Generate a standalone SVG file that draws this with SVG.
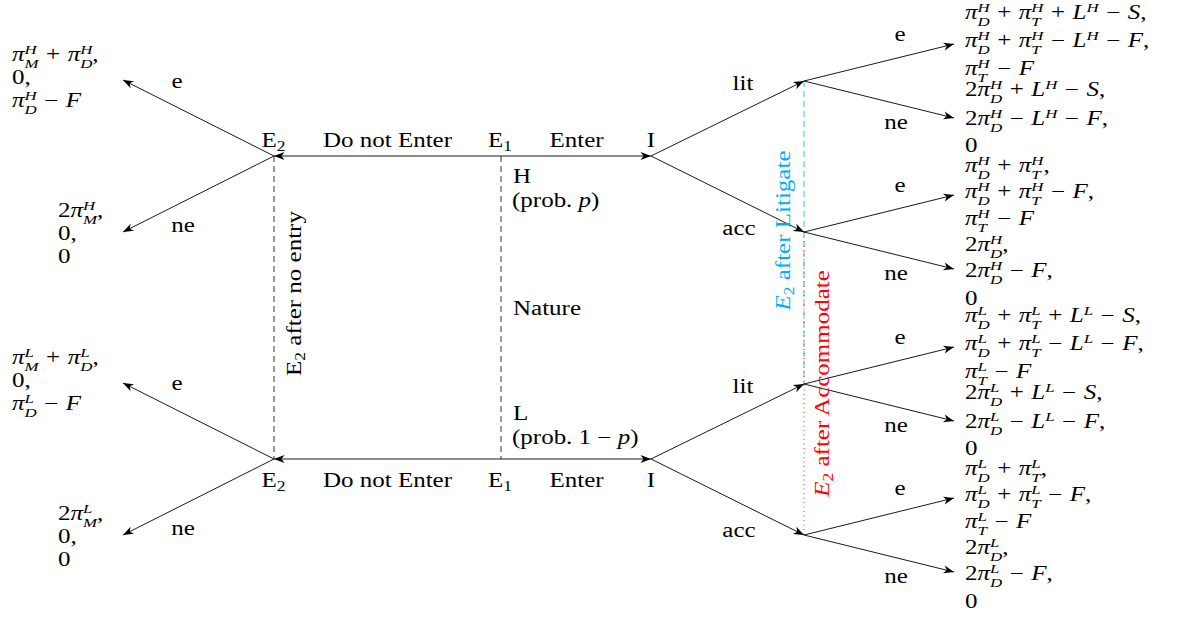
<svg xmlns="http://www.w3.org/2000/svg" width="1178" height="617" viewBox="0 0 1178 617">
<defs>
  <marker id="stealth" viewBox="-11 -5 12 10" refX="0" refY="0" markerWidth="12" markerHeight="10" markerUnits="userSpaceOnUse" orient="auto">
    <path d="M0,0 L-10.5,-4 L-7.5,0 L-10.5,4 Z" fill="#000"/>
  </marker>
</defs>
<style>
  text { font-family: "Liberation Serif", "Times New Roman", serif; font-size: 20px; fill: #000; }
  .c { text-anchor: middle; }
  .m { word-spacing: 1px; }
  .i { font-style: italic; }
  .s { font-size: 13.5px; font-style: italic; }
  .sr { font-size: 14px; }
  .cy { fill: #00AEEF; }
  .rd { fill: #FF0000; }
  .edge { stroke: #000; stroke-width: 0.9; fill: none; marker-end: url(#stealth); }
  .info { stroke: #000; stroke-width: 0.8; fill: none; stroke-dasharray: 6 4; }
  .set-lit { stroke: #00AEEF; stroke-width: 0.8; fill: none; stroke-dasharray: 6 4; }
  .set-acc { stroke: #FF0000; stroke-width: 0.9; fill: none; stroke-dasharray: 1 3.5; }
</style>
<rect width="1178" height="617" fill="#fff"/>

<!-- information sets -->
<g id="info-sets">
  <line class="info" x1="274" y1="156" x2="274" y2="459"/>
  <line class="info" x1="501" y1="156" x2="501" y2="459"/>
  <line class="set-lit" x1="804" y1="81" x2="804" y2="384"/>
  <line class="set-acc" x1="804" y1="232" x2="804" y2="535"/>
</g>

<!-- moves -->
<g id="connectors">
  <line class="edge" x1="501" y1="156" x2="274" y2="156"/>
  <line class="edge" x1="501" y1="156" x2="651" y2="156"/>
  <line class="edge" x1="501" y1="459" x2="274" y2="459"/>
  <line class="edge" x1="501" y1="459" x2="651" y2="459"/>
  <line class="edge" x1="274" y1="156" x2="123" y2="80"/>
  <line class="edge" x1="274" y1="156" x2="123" y2="232"/>
  <line class="edge" x1="274" y1="459" x2="123" y2="383"/>
  <line class="edge" x1="274" y1="459" x2="123" y2="535"/>
  <line class="edge" x1="651" y1="156" x2="804" y2="81"/>
  <line class="edge" x1="651" y1="156" x2="804" y2="232"/>
  <line class="edge" x1="651" y1="459" x2="804" y2="384"/>
  <line class="edge" x1="651" y1="459" x2="804" y2="535"/>
  <line class="edge" x1="804" y1="81" x2="954" y2="44"/>
  <line class="edge" x1="804" y1="81" x2="954" y2="118"/>
  <line class="edge" x1="804" y1="232" x2="954" y2="195"/>
  <line class="edge" x1="804" y1="232" x2="954" y2="269"/>
  <line class="edge" x1="804" y1="384" x2="954" y2="347"/>
  <line class="edge" x1="804" y1="384" x2="954" y2="421"/>
  <line class="edge" x1="804" y1="535" x2="954" y2="498"/>
  <line class="edge" x1="804" y1="535" x2="954" y2="572"/>
</g>

<!-- move labels -->
<g id="edge-labels">
  <text class="c" transform="translate(387.5,147) scale(1.25,1)">Do not Enter</text>
  <text class="c" transform="translate(576.5,147) scale(1.25,1)">Enter</text>
  <text class="c" transform="translate(387.5,487) scale(1.25,1)">Do not Enter</text>
  <text class="c" transform="translate(576.5,487) scale(1.25,1)">Enter</text>
  <text class="c" transform="translate(177,88) scale(1.25,1)">e</text>
  <text class="c" transform="translate(183,232) scale(1.25,1)">ne</text>
  <text class="c" transform="translate(177,390) scale(1.25,1)">e</text>
  <text class="c" transform="translate(183,535) scale(1.25,1)">ne</text>
  <text class="c" transform="translate(743,90) scale(1.25,1)">lit</text>
  <text class="c" transform="translate(739,235) scale(1.25,1)">acc</text>
  <text class="c" transform="translate(743,393) scale(1.25,1)">lit</text>
  <text class="c" transform="translate(739,537) scale(1.25,1)">acc</text>
  <text class="c" transform="translate(900,41) scale(1.25,1)">e</text>
  <text class="c" transform="translate(896,129) scale(1.25,1)">ne</text>
  <text class="c" transform="translate(900,192) scale(1.25,1)">e</text>
  <text class="c" transform="translate(896,280) scale(1.25,1)">ne</text>
  <text class="c" transform="translate(900,344) scale(1.25,1)">e</text>
  <text class="c" transform="translate(896,432) scale(1.25,1)">ne</text>
  <text class="c" transform="translate(900,495) scale(1.25,1)">e</text>
  <text class="c" transform="translate(896,583) scale(1.25,1)">ne</text>
</g>

<!-- decision nodes -->
<g id="node-E2-H"><text class="c" transform="translate(273.5,147) scale(1.25,1)">E<tspan class="sr" dy="3.5">2</tspan></text></g>
<g id="node-E1-H"><text class="c" transform="translate(500,147) scale(1.25,1)">E<tspan class="sr" dy="3.5">1</tspan></text></g>
<g id="node-I-H"><text class="c" transform="translate(651,147) scale(1.25,1)">I</text></g>
<g id="node-E2-L"><text class="c" transform="translate(273.5,487) scale(1.25,1)">E<tspan class="sr" dy="3.5">2</tspan></text></g>
<g id="node-E1-L"><text class="c" transform="translate(500,487) scale(1.25,1)">E<tspan class="sr" dy="3.5">1</tspan></text></g>
<g id="node-I-L"><text class="c" transform="translate(651,487) scale(1.25,1)">I</text></g>

<!-- chance move -->
<g id="nature">
  <text transform="translate(513,183) scale(1.25,1)">H</text>
  <text transform="translate(512,207) scale(1.25,1)">(prob. <tspan class="i">p</tspan>)</text>
  <text transform="translate(513,315) scale(1.25,1)">Nature</text>
  <text transform="translate(513,420) scale(1.25,1)">L</text>
  <text transform="translate(512,444) scale(1.25,1)">(prob. 1 − <tspan class="i">p</tspan>)</text>
</g>

<!-- information set labels -->
<g id="label-no-entry"><text class="c" transform="translate(301,293.5) rotate(-90) scale(1.25,1)">E<tspan class="sr" dy="3.5">2</tspan><tspan dy="-3.5"> after no entry</tspan></text></g>
<g id="label-litigate"><text class="c cy" transform="translate(790,230.5) rotate(-90) scale(1.25,1)"><tspan class="i">E</tspan><tspan class="sr" dy="3.5">2</tspan><tspan dy="-3.5"> after Litigate</tspan></text></g>
<g id="label-accommodate"><text class="c rd" transform="translate(829,383.5) rotate(-90) scale(1.25,1)"><tspan class="i">E</tspan><tspan class="sr" dy="3.5">2</tspan><tspan dy="-3.5"> after Accommodate</tspan></text></g>

<!-- payoffs, high type -->
<g id="leaf-H-e">
  <text class="m" transform="translate(12,61) scale(1.25,1)"><tspan class="i">π</tspan><tspan class="s" dy="6.5">M</tspan><tspan class="s" dx="-11.25" dy="-14">H</tspan><tspan dx="1.5" dy="7.5"> + </tspan><tspan class="i">π</tspan><tspan class="s" dy="6.5">D</tspan><tspan class="s" dx="-9.75" dy="-14">H</tspan><tspan dy="7.5">,</tspan></text>
  <text class="m" transform="translate(12,84) scale(1.25,1)">0,</text>
  <text class="m" transform="translate(12,107) scale(1.25,1)"><tspan class="i">π</tspan><tspan class="s" dy="6.5">D</tspan><tspan class="s" dx="-9.75" dy="-14">H</tspan><tspan dy="7.5"> − </tspan><tspan class="i">F</tspan></text>
</g>
<g id="leaf-H-ne">
  <text class="m" transform="translate(58,217) scale(1.25,1)">2<tspan class="i">π</tspan><tspan class="s" dy="6.5">M</tspan><tspan class="s" dx="-11.25" dy="-14">H</tspan><tspan dx="1.5" dy="7.5">,</tspan></text>
  <text class="m" transform="translate(58,240) scale(1.25,1)">0,</text>
  <text class="m" transform="translate(58,263) scale(1.25,1)">0</text>
</g>
<g id="leaf-H-lit-e">
  <text class="m" transform="translate(965,19) scale(1.25,1)"><tspan class="i">π</tspan><tspan class="s" dy="6.5">D</tspan><tspan class="s" dx="-9.75" dy="-14">H</tspan><tspan dy="7.5"> + </tspan><tspan class="i">π</tspan><tspan class="s" dy="6.5">T</tspan><tspan class="s" dx="-7.5" dy="-14">H</tspan><tspan dy="7.5"> + </tspan><tspan class="i">L</tspan><tspan class="s" dy="-7.5">H</tspan><tspan dy="7.5"> − </tspan><tspan class="i">S</tspan>,</text>
  <text class="m" transform="translate(965,47) scale(1.25,1)"><tspan class="i">π</tspan><tspan class="s" dy="6.5">D</tspan><tspan class="s" dx="-9.75" dy="-14">H</tspan><tspan dy="7.5"> + </tspan><tspan class="i">π</tspan><tspan class="s" dy="6.5">T</tspan><tspan class="s" dx="-7.5" dy="-14">H</tspan><tspan dy="7.5"> − </tspan><tspan class="i">L</tspan><tspan class="s" dy="-7.5">H</tspan><tspan dy="7.5"> − </tspan><tspan class="i">F</tspan>,</text>
  <text class="m" transform="translate(965,75) scale(1.25,1)"><tspan class="i">π</tspan><tspan class="s" dy="6.5">T</tspan><tspan class="s" dx="-7.5" dy="-14">H</tspan><tspan dy="7.5"> − </tspan><tspan class="i">F</tspan></text>
</g>
<g id="leaf-H-lit-ne">
  <text class="m" transform="translate(965,96) scale(1.25,1)">2<tspan class="i">π</tspan><tspan class="s" dy="6.5">D</tspan><tspan class="s" dx="-9.75" dy="-14">H</tspan><tspan dy="7.5"> + </tspan><tspan class="i">L</tspan><tspan class="s" dy="-7.5">H</tspan><tspan dy="7.5"> − </tspan><tspan class="i">S</tspan>,</text>
  <text class="m" transform="translate(965,125) scale(1.25,1)">2<tspan class="i">π</tspan><tspan class="s" dy="6.5">D</tspan><tspan class="s" dx="-9.75" dy="-14">H</tspan><tspan dy="7.5"> − </tspan><tspan class="i">L</tspan><tspan class="s" dy="-7.5">H</tspan><tspan dy="7.5"> − </tspan><tspan class="i">F</tspan>,</text>
  <text class="m" transform="translate(965,152) scale(1.25,1)">0</text>
</g>
<g id="leaf-H-acc-e">
  <text class="m" transform="translate(965,172) scale(1.25,1)"><tspan class="i">π</tspan><tspan class="s" dy="6.5">D</tspan><tspan class="s" dx="-9.75" dy="-14">H</tspan><tspan dy="7.5"> + </tspan><tspan class="i">π</tspan><tspan class="s" dy="6.5">T</tspan><tspan class="s" dx="-7.5" dy="-14">H</tspan><tspan dy="7.5">,</tspan></text>
  <text class="m" transform="translate(965,198) scale(1.25,1)"><tspan class="i">π</tspan><tspan class="s" dy="6.5">D</tspan><tspan class="s" dx="-9.75" dy="-14">H</tspan><tspan dy="7.5"> + </tspan><tspan class="i">π</tspan><tspan class="s" dy="6.5">T</tspan><tspan class="s" dx="-7.5" dy="-14">H</tspan><tspan dy="7.5"> − </tspan><tspan class="i">F</tspan>,</text>
  <text class="m" transform="translate(965,225) scale(1.25,1)"><tspan class="i">π</tspan><tspan class="s" dy="6.5">T</tspan><tspan class="s" dx="-7.5" dy="-14">H</tspan><tspan dy="7.5"> − </tspan><tspan class="i">F</tspan></text>
</g>
<g id="leaf-H-acc-ne">
  <text class="m" transform="translate(965,251) scale(1.25,1)">2<tspan class="i">π</tspan><tspan class="s" dy="6.5">D</tspan><tspan class="s" dx="-9.75" dy="-14">H</tspan><tspan dy="7.5">,</tspan></text>
  <text class="m" transform="translate(965,277) scale(1.25,1)">2<tspan class="i">π</tspan><tspan class="s" dy="6.5">D</tspan><tspan class="s" dx="-9.75" dy="-14">H</tspan><tspan dy="7.5"> − </tspan><tspan class="i">F</tspan>,</text>
  <text class="m" transform="translate(965,305) scale(1.25,1)">0</text>
</g>

<!-- payoffs, low type -->
<g id="leaf-L-e">
  <text class="m" transform="translate(12,364) scale(1.25,1)"><tspan class="i">π</tspan><tspan class="s" dy="6.5">M</tspan><tspan class="s" dx="-11.25" dy="-14">L</tspan><tspan dx="3.75" dy="7.5"> + </tspan><tspan class="i">π</tspan><tspan class="s" dy="6.5">D</tspan><tspan class="s" dx="-9.75" dy="-14">L</tspan><tspan dx="2.25" dy="7.5">,</tspan></text>
  <text class="m" transform="translate(12,387) scale(1.25,1)">0,</text>
  <text class="m" transform="translate(12,410) scale(1.25,1)"><tspan class="i">π</tspan><tspan class="s" dy="6.5">D</tspan><tspan class="s" dx="-9.75" dy="-14">L</tspan><tspan dx="2.25" dy="7.5"> − </tspan><tspan class="i">F</tspan></text>
</g>
<g id="leaf-L-ne">
  <text class="m" transform="translate(58,520) scale(1.25,1)">2<tspan class="i">π</tspan><tspan class="s" dy="6.5">M</tspan><tspan class="s" dx="-11.25" dy="-14">L</tspan><tspan dx="3.75" dy="7.5">,</tspan></text>
  <text class="m" transform="translate(58,543) scale(1.25,1)">0,</text>
  <text class="m" transform="translate(58,566) scale(1.25,1)">0</text>
</g>
<g id="leaf-L-lit-e">
  <text class="m" transform="translate(965,322) scale(1.25,1)"><tspan class="i">π</tspan><tspan class="s" dy="6.5">D</tspan><tspan class="s" dx="-9.75" dy="-14">L</tspan><tspan dx="2.25" dy="7.5"> + </tspan><tspan class="i">π</tspan><tspan class="s" dy="6.5">T</tspan><tspan class="s" dx="-7.5" dy="-14">L</tspan><tspan dy="7.5"> + </tspan><tspan class="i">L</tspan><tspan class="s" dy="-7.5">L</tspan><tspan dy="7.5"> − </tspan><tspan class="i">S</tspan>,</text>
  <text class="m" transform="translate(965,350) scale(1.25,1)"><tspan class="i">π</tspan><tspan class="s" dy="6.5">D</tspan><tspan class="s" dx="-9.75" dy="-14">L</tspan><tspan dx="2.25" dy="7.5"> + </tspan><tspan class="i">π</tspan><tspan class="s" dy="6.5">T</tspan><tspan class="s" dx="-7.5" dy="-14">L</tspan><tspan dy="7.5"> − </tspan><tspan class="i">L</tspan><tspan class="s" dy="-7.5">L</tspan><tspan dy="7.5"> − </tspan><tspan class="i">F</tspan>,</text>
  <text class="m" transform="translate(965,378) scale(1.25,1)"><tspan class="i">π</tspan><tspan class="s" dy="6.5">T</tspan><tspan class="s" dx="-7.5" dy="-14">L</tspan><tspan dy="7.5"> − </tspan><tspan class="i">F</tspan></text>
</g>
<g id="leaf-L-lit-ne">
  <text class="m" transform="translate(965,399) scale(1.25,1)">2<tspan class="i">π</tspan><tspan class="s" dy="6.5">D</tspan><tspan class="s" dx="-9.75" dy="-14">L</tspan><tspan dx="2.25" dy="7.5"> + </tspan><tspan class="i">L</tspan><tspan class="s" dy="-7.5">L</tspan><tspan dy="7.5"> − </tspan><tspan class="i">S</tspan>,</text>
  <text class="m" transform="translate(965,428) scale(1.25,1)">2<tspan class="i">π</tspan><tspan class="s" dy="6.5">D</tspan><tspan class="s" dx="-9.75" dy="-14">L</tspan><tspan dx="2.25" dy="7.5"> − </tspan><tspan class="i">L</tspan><tspan class="s" dy="-7.5">L</tspan><tspan dy="7.5"> − </tspan><tspan class="i">F</tspan>,</text>
  <text class="m" transform="translate(965,455) scale(1.25,1)">0</text>
</g>
<g id="leaf-L-acc-e">
  <text class="m" transform="translate(965,475) scale(1.25,1)"><tspan class="i">π</tspan><tspan class="s" dy="6.5">D</tspan><tspan class="s" dx="-9.75" dy="-14">L</tspan><tspan dx="2.25" dy="7.5"> + </tspan><tspan class="i">π</tspan><tspan class="s" dy="6.5">T</tspan><tspan class="s" dx="-7.5" dy="-14">L</tspan><tspan dy="7.5">,</tspan></text>
  <text class="m" transform="translate(965,501) scale(1.25,1)"><tspan class="i">π</tspan><tspan class="s" dy="6.5">D</tspan><tspan class="s" dx="-9.75" dy="-14">L</tspan><tspan dx="2.25" dy="7.5"> + </tspan><tspan class="i">π</tspan><tspan class="s" dy="6.5">T</tspan><tspan class="s" dx="-7.5" dy="-14">L</tspan><tspan dy="7.5"> − </tspan><tspan class="i">F</tspan>,</text>
  <text class="m" transform="translate(965,528) scale(1.25,1)"><tspan class="i">π</tspan><tspan class="s" dy="6.5">T</tspan><tspan class="s" dx="-7.5" dy="-14">L</tspan><tspan dy="7.5"> − </tspan><tspan class="i">F</tspan></text>
</g>
<g id="leaf-L-acc-ne">
  <text class="m" transform="translate(965,554) scale(1.25,1)">2<tspan class="i">π</tspan><tspan class="s" dy="6.5">D</tspan><tspan class="s" dx="-9.75" dy="-14">L</tspan><tspan dx="2.25" dy="7.5">,</tspan></text>
  <text class="m" transform="translate(965,580) scale(1.25,1)">2<tspan class="i">π</tspan><tspan class="s" dy="6.5">D</tspan><tspan class="s" dx="-9.75" dy="-14">L</tspan><tspan dx="2.25" dy="7.5"> − </tspan><tspan class="i">F</tspan>,</text>
  <text class="m" transform="translate(965,608) scale(1.25,1)">0</text>
</g>
</svg>
